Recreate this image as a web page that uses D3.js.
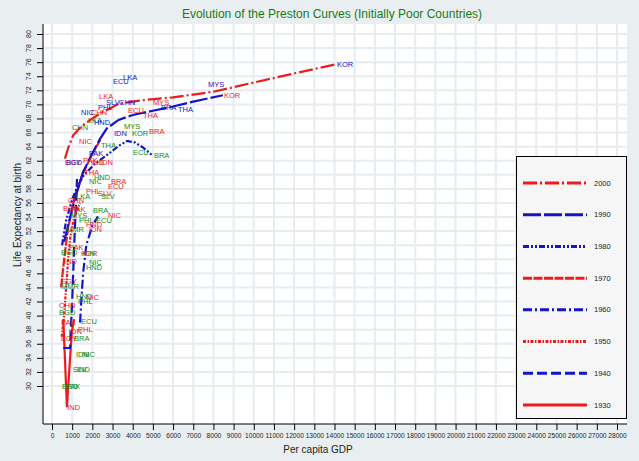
<!DOCTYPE html>
<html>
<head>
<meta charset="utf-8">
<script src="https://cdn.jsdelivr.net/npm/d3@7"></script>
<style>
body { margin: 0; background: #e9eff1; }
svg { display: block; font-family: "Liberation Sans", Arial, sans-serif; }
</style>
</head>
<body>
<svg id="chart" width="639" height="461"></svg>
<script>
// tick values
var xTicks = d3.range(0, 28001, 1000);
var yTicks = d3.range(30, 81, 2);

// legend order, top to bottom
var decades = ["2000", "1990", "1980", "1970", "1960", "1950", "1940", "1930"];

// country labels per decade: code, per capita GDP, life expectancy
var codes2000 = ["KOR","MYS","THA","BRA","LKA","ECU","CHN","SLV","PHL","NIC","HND","IDN","PAK","BGD"];
var gdp2000   = [14070,7680,6190,5350,3470,2970,3270,2630,2230,1390,2030,3020,1780,640];
var le2000    = [75.7,72.8,69.3,69.6,73.8,73.3,70.3,70.3,69.6,68.9,67.5,65.9,63.0,61.8];

var codes1990 = ["KOR","MYS","LKA","CHN","ECU","THA","BRA","NIC","IND","IDN","EGY","PAK"];
var gdp1990   = [8470,4950,2280,1880,3720,4460,4760,1290,1880,2330,600,1490];
var le1990    = [71.3,70.3,71.2,68.9,69.1,68.4,66.2,64.7,61.8,61.8,61.7,62.1];

var codes1980 = ["CHN","LKA","MYS","KOR","THA","ECU","BRA","HND","NIC","SLV"];
var gdp1980   = [940,1730,3520,3910,2380,3960,5000,2030,1780,2380];
var le1980    = [66.8,67.8,66.9,65.9,64.2,63.2,62.7,59.7,59.0,56.9];

var codes1970 = ["THA","BRA","ECU","PHL","SLV","CHN","BGD","PAK","NIC","HND","IDN"];
var gdp1970   = [1540,2870,2720,1630,2230,740,500,900,2720,1630,1780];
var le1970    = [60.4,59.0,58.3,57.6,57.4,56.3,55.2,55.1,54.2,53.0,52.3];

var codes1960 = ["BRA","MYS","PHL","ECU","MMR","LKA","BGD","IDN","NIC","HND"];
var gdp1960   = [1980,890,1290,2130,640,1140,400,1440,1780,1630];
var le1960    = [54.9,54.2,53.5,53.5,52.3,57.0,49.0,48.8,47.6,46.9];

var codes1950 = ["PAK","IND","KOR","EGY","CHN","NIC"];
var gdp1950   = [790,550,1390,400,300,1630];
var le1950    = [49.7,47.7,48.8,44.8,41.4,42.6];

var codes1940 = ["MMR","HND","PHL","BGD","ECU","BRA","IDN","NIC","SLV","IND","BGD","PAK"];
var gdp1940   = [400,1140,1240,300,1390,1040,1140,1440,990,1190,450,640];
var le1940    = [44.2,42.8,42.0,40.5,39.2,36.7,34.5,34.5,32.4,32.4,30.0,30.0];

var codes1930 = ["IND","PAK","EGY","PHL","IDN"];
var gdp1930   = [700,400,400,1240,790];
var le1930    = [26.9,39.0,36.7,38.1,37.7];

// fitted Preston curves per decade
var fitGdp2000 = [640,800,1050,1500,2000,2500,2800,3300,4500,6000,8000,10000,12000,14070];
var fitLe2000  = [62.3,63.8,65.6,67.0,68.0,68.9,69.3,70.1,70.6,71.0,71.8,73.1,74.4,75.7];
var fitGdp1990 = [600,900,1140,1540,2030,2380,2720,3300,4000,5000,6000,7000,8470];
var fitLe1990  = [50.5,54.0,56.6,60.4,63.2,65.1,66.6,67.8,68.5,69.1,69.7,70.4,71.3];
var fitGdp1980 = [500,700,1000,1240,1540,2100,2720,3300,3720,4100,4500,5000];
var fitLe1980  = [50.0,53.5,56.5,58.2,59.8,61.5,62.8,64.1,64.8,64.6,63.9,62.7];
var fitGdp1970 = [450,600,800,1100,1500,2000,2400];
var fitLe1970  = [44.0,48.0,52.5,56.5,60.0,63.0,65.0];
var fitGdp1960 = [1390,1450,1540,1700,2000,2280];
var fitLe1960  = [39.0,42.0,46.0,50.0,52.8,54.1];
var fitGdp1950 = [480,600,700,800,900,1100,1400];
var fitLe1950  = [37.0,40.0,44.0,48.0,51.0,54.0,56.0];
var fitGdp1940 = [560,890,1000,1100,1240];
var fitLe1940  = [35.4,35.4,42.0,50.0,59.4];
var fitGdp1930 = [560,740,980,1100];
var fitLe1930  = [39.5,27.0,37.7,39.5];

var RED = "#ec1c1c", BLUE = "#1414c8", GREEN = "#168a16";

var series = [
  {year: "2000", codes: codes2000, gdp: gdp2000, le: le2000, fx: fitGdp2000, fy: fitLe2000, color: RED,  dash: "14,3,2,3", lab: BLUE},
  {year: "1990", codes: codes1990, gdp: gdp1990, le: le1990, fx: fitGdp1990, fy: fitLe1990, color: BLUE, dash: "18,3", lab: RED},
  {year: "1980", codes: codes1980, gdp: gdp1980, le: le1980, fx: fitGdp1980, fy: fitLe1980, color: BLUE, dash: "6,2,2,2,2,2", lab: GREEN},
  {year: "1970", codes: codes1970, gdp: gdp1970, le: le1970, fx: fitGdp1970, fy: fitLe1970, color: RED,  dash: "9,1.5", lab: RED},
  {year: "1960", codes: codes1960, gdp: gdp1960, le: le1960, fx: fitGdp1960, fy: fitLe1960, color: BLUE, dash: "9,3,2,3", lab: GREEN},
  {year: "1950", codes: codes1950, gdp: gdp1950, le: le1950, fx: fitGdp1950, fy: fitLe1950, color: RED,  dash: "3,1.5,1.5,1.5", lab: RED},
  {year: "1940", codes: codes1940, gdp: gdp1940, le: le1940, fx: fitGdp1940, fy: fitLe1940, color: BLUE, dash: "10,4", lab: GREEN},
  {year: "1930", codes: codes1930, gdp: gdp1930, le: le1930, fx: fitGdp1930, fy: fitLe1930, color: RED,  dash: null, lab: RED}
];

var svg = d3.select("#chart");
var plot = {left: 43, right: 627, top: 24, bottom: 424};

var x = d3.scaleLinear().domain([0, 28000]).range([52, 617]);
var y = d3.scaleLinear().domain([30, 80]).range([386, 34]);

// plot background
svg.append("rect")
    .attr("x", plot.left).attr("y", plot.top)
    .attr("width", plot.right - plot.left).attr("height", plot.bottom - plot.top)
    .attr("fill", "#ffffff");

// grid
svg.append("g").selectAll("line")
    .data(xTicks)
  .enter().append("line")
    .attr("x1", d => x(d)).attr("x2", d => x(d))
    .attr("y1", plot.top).attr("y2", plot.bottom)
    .attr("stroke", "#e6ecef").attr("stroke-width", 2);
svg.append("g").selectAll("line")
    .data(yTicks)
  .enter().append("line")
    .attr("y1", d => y(d)).attr("y2", d => y(d))
    .attr("x1", plot.left).attr("x2", plot.right)
    .attr("stroke", "#e6ecef").attr("stroke-width", 2);

// curves
var line = d3.line().x(d => x(d[0])).y(d => y(d[1]));
series.slice().reverse().forEach(function(s) {
  var pts = s.fx.map((g, i) => [g, s.fy[i]]);
  svg.append("path")
      .datum(pts)
      .attr("d", line)
      .attr("fill", "none")
      .attr("stroke", s.color)
      .attr("stroke-width", 2.2)
      .attr("stroke-dasharray", s.dash);
});

// country labels
series.slice().reverse().forEach(function(s) {
  svg.append("g").selectAll("text")
      .data(s.codes)
    .enter().append("text")
      .attr("x", (d, i) => x(s.gdp[i]) + 1)
      .attr("y", (d, i) => y(s.le[i]))
      .attr("dy", "0.35em")
      .attr("font-size", "7.5px")
      .attr("fill", s.lab)
      .text(d => d);
});

// x axis
var xAxis = d3.axisBottom(x).tickValues(xTicks).tickSize(6).tickPadding(3).tickFormat(d3.format("d"));
var gx = svg.append("g")
    .attr("transform", "translate(0," + plot.bottom + ")")
    .call(xAxis);
gx.select(".domain").remove();
gx.selectAll("line").attr("stroke", "#000");
gx.selectAll("text").attr("font-size", "6.6px").attr("fill", "#222")
    .attr("font-family", "Liberation Sans, Arial, sans-serif");
svg.append("line")
    .attr("x1", plot.left).attr("x2", plot.right)
    .attr("y1", plot.bottom).attr("y2", plot.bottom)
    .attr("stroke", "#000");

// y axis
var yAxis = d3.axisLeft(y).tickValues(yTicks).tickSize(6).tickFormat(d3.format("d"));
var gy = svg.append("g")
    .attr("transform", "translate(" + plot.left + ",0)")
    .call(yAxis);
gy.select(".domain").remove();
gy.selectAll("line").attr("stroke", "#000");
gy.selectAll("text").remove();
svg.append("g").selectAll("text")
    .data(yTicks)
  .enter().append("text")
    .attr("transform", d => "translate(31," + y(d) + ") rotate(-90)")
    .attr("text-anchor", "middle")
    .attr("font-size", "7px")
    .attr("fill", "#222")
    .text(d => d);
svg.append("line")
    .attr("x1", plot.left).attr("x2", plot.left)
    .attr("y1", plot.top).attr("y2", plot.bottom)
    .attr("stroke", "#000");

// titles
svg.append("text")
    .attr("x", 332).attr("y", 18)
    .attr("text-anchor", "middle")
    .attr("font-size", "12px")
    .attr("fill", "#177a17")
    .text("Evolution of the Preston Curves (Initially Poor Countries)");
svg.append("text")
    .attr("x", 318).attr("y", 453)
    .attr("text-anchor", "middle")
    .attr("font-size", "10px")
    .attr("fill", "#222")
    .text("Per capita GDP");
svg.append("text")
    .attr("transform", "translate(21,215) rotate(-90)")
    .attr("text-anchor", "middle")
    .attr("font-size", "10px")
    .attr("fill", "#222")
    .text("Life Expectancy at birth");

// legend
var lg = svg.append("g");
lg.append("rect")
    .attr("x", 516.5).attr("y", 156.5)
    .attr("width", 110).attr("height", 262)
    .attr("fill", "#f6f6f6")
    .attr("stroke", "#000");
var rowY = d3.scalePoint().domain(decades).range([183, 405]);
series.forEach(function(s) {
  lg.append("line")
      .attr("x1", 523).attr("x2", 587)
      .attr("y1", rowY(s.year)).attr("y2", rowY(s.year))
      .attr("stroke", s.color)
      .attr("stroke-width", 3)
      .attr("stroke-dasharray", s.dash);
  lg.append("text")
      .attr("x", 594).attr("y", rowY(s.year))
      .attr("dy", "0.35em")
      .attr("font-size", "7.5px")
      .attr("fill", "#222")
      .text(s.year);
});
</script>
</body>
</html>
